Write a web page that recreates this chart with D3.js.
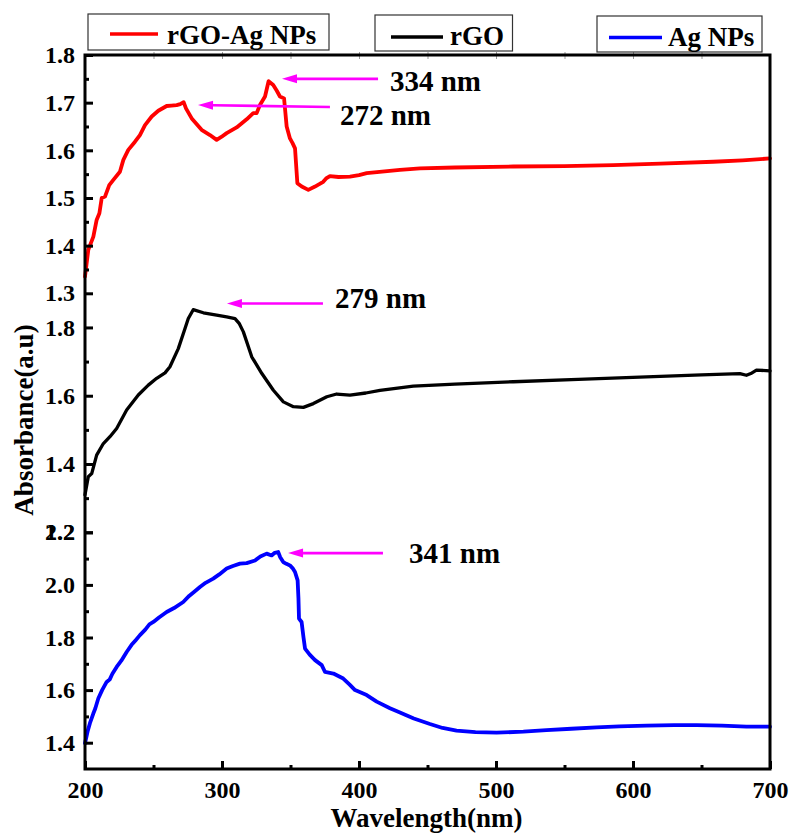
<!DOCTYPE html>
<html>
<head>
<meta charset="utf-8">
<script src="https://cdn.jsdelivr.net/npm/d3@7"></script>
<style>
  html, body { margin: 0; padding: 0; background: #fff; }
  svg { display: block; }
  text { font-family: "Liberation Serif", "Times New Roman", serif; font-weight: bold; }
</style>
</head>
<body>
<svg id="chart" width="789" height="835"></svg>
<script>
// ---- UV-Vis spectra (wavelength in nm, absorbance in a.u.) ----
const wlRGOAg = [200, 202.4, 206.1, 208.5, 210.5, 212.2, 214.6, 217.7, 220.7, 225.5, 228, 231.6, 236.5, 240.1, 243.8, 248.7, 253.5, 259.6, 263, 266.9, 269.5, 272, 273.7, 277.9, 285.1, 291.2, 296.1, 299.5, 303.4, 310.7, 318, 322.8, 325.3, 327.7, 331.4, 334, 337.4, 340, 342.3, 345.3, 347.2, 349.6, 351.5, 353.3, 355, 358.2, 363, 367.9, 371, 373.9, 376, 378.8, 385, 393.4, 400, 405.6, 415, 429.9, 444.5, 470, 512.6, 550, 585.6, 620, 658.6, 680, 700];
const absRGOAg = [1.335, 1.391, 1.419, 1.454, 1.468, 1.500, 1.503, 1.527, 1.538, 1.555, 1.580, 1.601, 1.618, 1.632, 1.653, 1.671, 1.683, 1.693, 1.694, 1.695, 1.697, 1.701, 1.688, 1.667, 1.643, 1.632, 1.622, 1.628, 1.636, 1.648, 1.665, 1.678, 1.678, 1.695, 1.713, 1.745, 1.737, 1.725, 1.713, 1.709, 1.650, 1.625, 1.615, 1.604, 1.531, 1.524, 1.517, 1.524, 1.529, 1.534, 1.541, 1.546, 1.544, 1.545, 1.548, 1.552, 1.555, 1.559, 1.562, 1.564, 1.566, 1.567, 1.569, 1.572, 1.576, 1.579, 1.583];

const wlRGO = [200, 202.4, 204.9, 208.5, 213.4, 218.2, 223.1, 230.4, 238.9, 246.2, 252.3, 258.4, 262, 268.1, 273, 275.4, 279, 286.4, 296.1, 303.4, 309.5, 312.5, 315.6, 321.7, 329.1, 337.5, 344.8, 352.1, 359.4, 366.7, 376.5, 383.7, 393.4, 405, 415.3, 439.6, 470, 512.6, 560, 609.9, 650, 678, 682.8, 686, 690.1, 700];
const absRGO = [1.310, 1.363, 1.372, 1.426, 1.460, 1.480, 1.504, 1.558, 1.602, 1.631, 1.651, 1.667, 1.685, 1.738, 1.797, 1.826, 1.852, 1.843, 1.836, 1.831, 1.826, 1.812, 1.787, 1.714, 1.665, 1.616, 1.582, 1.568, 1.566, 1.577, 1.597, 1.605, 1.602, 1.608, 1.616, 1.628, 1.634, 1.641, 1.648, 1.655, 1.661, 1.665, 1.660, 1.665, 1.675, 1.673];

const wlAg = [200, 202, 203.6, 206, 207.5, 209.7, 212.5, 215.8, 218, 220, 223.1, 226.5, 230.4, 234, 237, 240.1, 244, 247, 249.9, 254, 259.6, 265, 271.7, 276, 280, 283.9, 288, 293.6, 298, 303.4, 308, 313.1, 318, 324.1, 328, 332.6, 336.2, 338.5, 341, 342.5, 344.7, 347, 349.6, 351.5, 353.3, 355.2, 355.8, 356.2, 358.1, 359.5, 360.6, 364, 367.9, 372.8, 375.2, 381.3, 388.5, 393, 397.1, 405.6, 412.9, 422.6, 429.9, 440, 451.8, 461, 471.2, 485, 500.4, 520, 536.9, 555, 573.4, 590, 609.9, 630, 646.4, 665, 682.8, 700];
const absAg = [1.398, 1.445, 1.474, 1.510, 1.530, 1.568, 1.600, 1.631, 1.640, 1.662, 1.688, 1.712, 1.745, 1.772, 1.790, 1.809, 1.830, 1.850, 1.859, 1.876, 1.897, 1.912, 1.935, 1.958, 1.975, 1.992, 2.008, 2.024, 2.040, 2.062, 2.072, 2.081, 2.083, 2.093, 2.108, 2.119, 2.112, 2.122, 2.125, 2.105, 2.087, 2.080, 2.074, 2.064, 2.049, 2.017, 1.950, 1.872, 1.859, 1.800, 1.758, 1.735, 1.714, 1.695, 1.669, 1.663, 1.644, 1.622, 1.600, 1.581, 1.556, 1.531, 1.515, 1.492, 1.471, 1.456, 1.446, 1.440, 1.438, 1.442, 1.448, 1.453, 1.458, 1.462, 1.465, 1.467, 1.467, 1.465, 1.461, 1.461];

// ---- series names and colours ----
const seriesNames = ["rGO-Ag NPs", "rGO", "Ag NPs"];
const seriesColors = ["#ff0000", "#000000", "#0000ff"];

// ---- axes ----
const xDomain = [200, 700];
const xTicks = [200, 300, 400, 500, 600, 700];
const xMinorTicks = [250, 350, 450, 550, 650];

const yDomainRGOAg = [1.3, 1.8];
const yTicksRGOAg = [1.3, 1.4, 1.5, 1.6, 1.7, 1.8];
const yMinorRGOAg = [1.35, 1.45, 1.55, 1.65, 1.75];

const yDomainRGO = [1.2, 1.9];
const yTicksRGO = [1.2, 1.4, 1.6, 1.8];
const yMinorRGO = [1.3, 1.5, 1.7];

const yDomainAg = [1.3, 2.2];
const yTicksAg = [1.4, 1.6, 1.8, 2.0, 2.2];
const yMinorAg = [1.5, 1.7, 1.9, 2.1];

// ---- peak annotations (panel index, arrow tip, arrow tail, label anchor) ----
const peakLabels = ["334 nm", "272 nm", "279 nm", "341 nm"];
const peakPanel = [0, 0, 1, 2];
const arrowTipWl = [343.8, 282.5, 303.6, 348.2];
const arrowTipAbs = [1.750, 1.695, 1.870, 2.121];
const arrowTailWl = [413.9, 378.8, 373.7, 417.5];
const arrowTailAbs = [1.750, 1.691, 1.870, 2.121];
const labelWl = [422.6, 386.1, 382.5, 436.5];
const labelAbs = [1.725, 1.653, 1.857, 2.083];

// ---- layout ----
const svg = d3.select("#chart");
const plotL = 85, plotR = 770, plotT = 55, plotB = 769;
const x = d3.scaleLinear().domain(xDomain).range([plotL, plotR]);

// three stacked panels sharing the wavelength axis
const panels = [
  { y: d3.scaleLinear().domain(yDomainRGOAg).range([293.3, plotT]), wl: wlRGOAg, abs: absRGOAg,
    ticks: yTicksRGOAg, minor: yMinorRGOAg, width: 3.8 },
  { y: d3.scaleLinear().domain(yDomainRGO).range([532.3, 293.3]), wl: wlRGO, abs: absRGO,
    ticks: yTicksRGO, minor: yMinorRGO, width: 3.3 },
  { y: d3.scaleLinear().domain(yDomainAg).range([plotB, 532.3]), wl: wlAg, abs: absAg,
    ticks: yTicksAg, minor: yMinorAg, width: 3.8 }
];
const fmt1 = d3.format(".1f");

// curves
panels.forEach((p, i) => {
  const pts = p.wl.map((w, k) => [w, p.abs[k]]);
  const line = d3.line().x(d => x(d[0])).y(d => p.y(d[1]));
  svg.append("path")
    .datum(pts)
    .attr("d", line)
    .attr("fill", "none")
    .attr("stroke", seriesColors[i])
    .attr("stroke-width", p.width)
    .attr("stroke-linejoin", "round")
    .attr("stroke-linecap", "round");
});

// left axes (one per panel), ticks pointing inward
panels.forEach(p => {
  const g = svg.append("g").attr("transform", `translate(${plotL},0)`);
  g.call(d3.axisLeft(p.y).tickValues(p.ticks).tickFormat(fmt1).tickSizeInner(-8).tickSizeOuter(0).tickPadding(10));
  g.select(".domain").remove();
  g.selectAll(".tick line").attr("stroke", "#000").attr("stroke-width", 3);
  g.selectAll(".tick text").attr("font-size", 24).attr("fill", "#000");
  const gm = svg.append("g").attr("transform", `translate(${plotL},0)`);
  gm.call(d3.axisLeft(p.y).tickValues(p.minor).tickFormat("").tickSizeInner(-4).tickSizeOuter(0));
  gm.select(".domain").remove();
  gm.selectAll(".tick line").attr("stroke", "#000").attr("stroke-width", 3);
});

// bottom axis
const gx = svg.append("g").attr("transform", `translate(0,${plotB})`);
gx.call(d3.axisBottom(x).tickValues(xTicks).tickFormat(d3.format("d")).tickSizeInner(-8).tickSizeOuter(0));
gx.select(".domain").remove();
gx.selectAll(".tick line").attr("stroke", "#000").attr("stroke-width", 3);
gx.selectAll(".tick text").attr("font-size", 24).attr("fill", "#000").attr("dy", null).attr("y", 29);
const gxm = svg.append("g").attr("transform", `translate(0,${plotB})`);
gxm.call(d3.axisBottom(x).tickValues(xMinorTicks).tickFormat("").tickSizeInner(-4).tickSizeOuter(0));
gxm.select(".domain").remove();
gxm.selectAll(".tick line").attr("stroke", "#000").attr("stroke-width", 3);

// faint top ticks
const gt = svg.append("g").attr("transform", `translate(0,${plotT})`);
gt.call(d3.axisTop(x).tickValues(d3.range(250, 700, 50)).tickFormat("").tickSizeInner(-4).tickSizeOuter(0));
gt.select(".domain").remove();
gt.selectAll(".tick line").attr("stroke", "#999").attr("stroke-width", 1).attr("y1", -3);

// axis groups: drop d3's default sans-serif so the serif style applies
svg.selectAll("g").attr("font-family", null);

// frame
svg.append("rect")
  .attr("x", plotL).attr("y", plotT)
  .attr("width", plotR - plotL).attr("height", plotB - plotT)
  .attr("fill", "none").attr("stroke", "#000").attr("stroke-width", 3);

// axis titles
svg.append("text")
  .attr("x", (plotL + plotR) / 2 - 1).attr("y", 827)
  .attr("text-anchor", "middle").attr("font-size", 27)
  .text("Wavelength(nm)");
svg.append("text")
  .attr("transform", "translate(33,420) rotate(-90)")
  .attr("text-anchor", "middle").attr("font-size", 27)
  .text("Absorbance(a.u)");

// peak arrows and labels
const magenta = "#ff00ff";
peakLabels.forEach((lab, i) => {
  const p = panels[peakPanel[i]];
  const tx = x(arrowTipWl[i]), ty = p.y(arrowTipAbs[i]);
  const sx = x(arrowTailWl[i]), sy = p.y(arrowTailAbs[i]);
  const ang = Math.atan2(ty - sy, tx - sx);
  const headLen = 15, headHalf = 4.5;
  const bx = tx - headLen * Math.cos(ang), by = ty - headLen * Math.sin(ang);
  svg.append("line")
    .attr("x1", sx).attr("y1", sy).attr("x2", bx).attr("y2", by)
    .attr("stroke", magenta).attr("stroke-width", 2.6);
  svg.append("path")
    .attr("d", d3.line()([
      [tx, ty],
      [bx - headHalf * Math.sin(ang), by + headHalf * Math.cos(ang)],
      [bx + headHalf * Math.sin(ang), by - headHalf * Math.cos(ang)]
    ]) + "Z")
    .attr("fill", magenta);
  svg.append("text")
    .attr("x", x(labelWl[i])).attr("y", p.y(labelAbs[i]))
    .attr("font-size", 29).attr("fill", "#000")
    .text(lab);
});

// legend boxes, one per series
const legendBoxes = [
  { x0: 88, x1: 329, y0: 14, y1: 50, lx0: 110, lx1: 158, ly: 34, tx: 167, ty: 43.5 },
  { x0: 375, x1: 512.5, y0: 15, y1: 51, lx0: 391, lx1: 443, ly: 37, tx: 450, ty: 44.5 },
  { x0: 597, x1: 762, y0: 16, y1: 52, lx0: 609, lx1: 662, ly: 37.5, tx: 668, ty: 45.5 }
];
legendBoxes.forEach((b, i) => {
  svg.append("rect")
    .attr("x", b.x0).attr("y", b.y0)
    .attr("width", b.x1 - b.x0).attr("height", b.y1 - b.y0)
    .attr("fill", "#fff").attr("stroke", "#333").attr("stroke-width", 1.2);
  svg.append("line")
    .attr("x1", b.lx0).attr("x2", b.lx1).attr("y1", b.ly).attr("y2", b.ly)
    .attr("stroke", seriesColors[i]).attr("stroke-width", 3.5);
  svg.append("text")
    .attr("x", b.tx).attr("y", b.ty)
    .attr("font-size", 27).attr("fill", "#000")
    .text(seriesNames[i]);
});
</script>
</body>
</html>
